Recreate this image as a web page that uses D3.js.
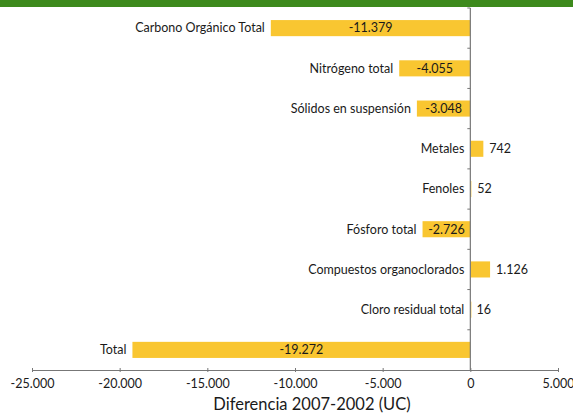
<!DOCTYPE html>
<head>
<meta charset="utf-8">
<title>Diferencia 2007-2002</title>
<style>
    body { margin:0; background:#fff; }
    svg { display:block; }
    text { font-family: Lato, "Open Sans", sans-serif; fill:#1a1a1a; }
</style>
</head>
<body>
<svg width="573" height="415"></svg>
<script src="https://cdnjs.cloudflare.com/ajax/libs/d3/7.8.5/d3.min.js"></script>
<script>
var categories = ["Carbono Orgánico Total", "Nitrógeno total", "Sólidos en suspensión", "Metales",
                  "Fenoles", "Fósforo total", "Compuestos organoclorados", "Cloro residual total", "Total"];
var values = [-11379, -4055, -3048, 742, 52, -2726, 1126, 16, -19272];
var valueLabels = ["-11.379", "-4.055", "-3.048", "742", "52", "-2.726", "1.126", "16", "-19.272"];
var tickValues = [-25000, -20000, -15000, -10000, -5000, 0, 5000];
var tickLabels = ["-25.000", "-20.000", "-15.000", "-10.000", "-5.000", "0", "5.000"];

var svg = d3.select("svg");

// green band at the top (header of the original page)
svg.append("rect").attr("x", 0).attr("y", 0).attr("width", 573).attr("height", 7).attr("fill", "#3d8a1c");

var x = d3.scaleLinear().domain([-25000, 5000]).range([32, 558]);
var y = d3.scaleBand().domain(categories).range([8, 370]).paddingInner(0.6).paddingOuter(0.3);

// bars
svg.selectAll("rect.bar").data(values).enter().append("rect")
    .attr("class", "bar")
    .attr("x", function(d){ return x(Math.min(0, d)); })
    .attr("y", function(d, i){ return y(categories[i]); })
    .attr("width", function(d){ return Math.max(1, Math.abs(x(d) - x(0))); })
    .attr("height", y.bandwidth())
    .attr("fill", "#f9c631");

// bottom axis
var xAxis = d3.axisBottom(x).tickValues(tickValues).tickSizeInner(3).tickSizeOuter(0)
    .tickFormat(function(d, i){ return tickLabels[i]; });
var gx = svg.append("g").attr("transform", "translate(0,370)").call(xAxis);
gx.select(".domain").attr("stroke", "#777");
gx.selectAll(".tick line").attr("stroke", "#777").attr("y1", -2).attr("y2", 2);
gx.selectAll(".tick text").attr("y", 9).attr("font-size", 12.5).style("font-family", "Lato, sans-serif").attr("fill", "#1a1a1a");

// zero line with ticks between categories
svg.append("line").attr("x1", x(0)).attr("x2", x(0)).attr("y1", 8).attr("y2", 370)
    .attr("stroke", "#777").attr("stroke-width", 1.2);
svg.selectAll("line.ytick").data(d3.range(categories.length)).enter().append("line")
    .attr("class", "ytick")
    .attr("x1", x(0) - 3).attr("x2", x(0))
    .attr("y1", function(i){ return 8 + i * y.step(); })
    .attr("y2", function(i){ return 8 + i * y.step(); })
    .attr("stroke", "#777");

// category labels
svg.selectAll("text.cat").data(categories).enter().append("text")
    .attr("class", "cat")
    .attr("x", function(d, i){ return x(Math.min(0, values[i])) - 6; })
    .attr("y", function(d){ return y(d) + y.bandwidth() / 2; })
    .attr("dy", "0.35em")
    .attr("text-anchor", "end")
    .attr("font-size", 12.5)
    .text(function(d){ return d; });

// value labels
svg.selectAll("text.val").data(values).enter().append("text")
    .attr("class", "val")
    .attr("x", function(d){ return d < 0 ? (x(d) + x(0)) / 2 : x(d) + 6; })
    .attr("y", function(d, i){ return y(categories[i]) + y.bandwidth() / 2; })
    .attr("dy", "0.35em")
    .attr("text-anchor", function(d){ return d < 0 ? "middle" : "start"; })
    .attr("font-size", 12.5)
    .text(function(d, i){ return valueLabels[i]; });

// axis title
svg.append("text")
    .attr("x", 312).attr("y", 410)
    .attr("text-anchor", "middle")
    .attr("font-size", 16.5)
    .text("Diferencia 2007-2002 (UC)");
</script>
</body>
